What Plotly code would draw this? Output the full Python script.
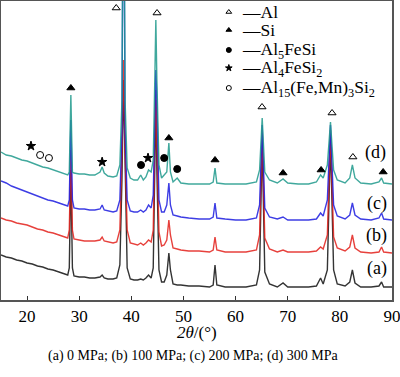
import plotly.graph_objects as go

# 2theta grid (degrees)
two_theta = [15, 16, 17, 18, 19, 20, 21, 22, 23, 24, 25, 26, 27, 27.8, 28.1, 28.4, 28.7, 29, 30, 31,
             32, 33, 34, 34.4, 34.8, 35.5, 36.5, 37.2, 37.8, 38.2, 38.5, 38.8, 39.2, 39.8, 40.5, 41.2,
             41.8, 42.3, 42.8, 43.3, 43.8, 44.2, 44.5, 44.7, 44.9, 45.3, 45.8, 46.3, 46.8, 47.2, 47.5,
             48.0, 48.8, 49.5, 51, 53, 55, 55.7, 56.05, 56.4, 58, 60, 62, 64, 64.6, 65.1, 65.6, 66.5,
             68, 69.1, 70, 72, 74, 75.5, 76.3, 76.8, 77.6, 78.2, 78.8, 79.5, 81, 81.9, 82.4, 82.9, 84,
             86, 87.5, 88.0, 88.4, 90]

# (d) 300 MPa
int_d = [148, 145, 144, 142, 140, 139, 137, 135, 133, 132, 130, 128, 126, 125, 128, 205, 128, 127, 126, 126,
         125, 125, 128, 133, 127, 124, 123, 124, 135, 200, 500, 200, 132, 122, 120, 120,
         125, 120, 123, 130, 128, 140, 220, 280, 220, 135, 122, 125, 128, 157, 128,
         118, 122, 117, 116, 116, 116, 118, 132, 117, 116, 116, 116, 118, 130, 182, 128, 120,
         117, 121, 117, 116, 116, 118, 125, 122, 135, 178, 130, 120, 117, 122, 135, 122, 117,
         116, 118, 122, 117, 116]
# (c) 200 MPa
int_c = [119, 117, 114, 112, 110, 108, 106, 104, 102, 100, 99, 97, 95, 94, 100, 180, 100, 92, 91, 91,
         90, 90, 91, 95, 90, 89, 88, 89, 100, 170, 500, 170, 100, 89, 88, 88,
         90, 88, 90, 95, 92, 105, 200, 230, 200, 100, 88, 88, 95, 117, 95,
         85, 84, 83, 82, 81, 81, 83, 97, 82, 81, 80, 80, 82, 95, 175, 92, 83,
         81, 83, 80, 80, 80, 81, 87, 84, 100, 175, 95, 84, 81, 85, 97, 85, 81,
         80, 82, 87, 81, 80]
# (b) 100 MPa
int_b = [82, 80, 79, 77, 76, 75, 73, 71, 70, 68, 67, 65, 63, 62, 70, 150, 70, 61, 60, 59,
         59, 59, 60, 63, 59, 58, 57, 58, 70, 150, 240, 150, 70, 57, 56, 55,
         57, 55, 57, 60, 58, 70, 160, 210, 160, 68, 54, 55, 60, 80, 65,
         52, 51, 50, 49, 49, 48, 50, 63, 50, 48, 48, 48, 50, 65, 170, 62, 51,
         48, 50, 48, 48, 48, 49, 53, 51, 65, 170, 63, 52, 49, 53, 65, 52, 48,
         47, 48, 53, 48, 47]
# (a) 0 MPa
int_a = [45, 43, 42, 40, 39, 37, 36, 34, 33, 31, 30, 28, 26, 25, 32, 130, 32, 24, 23, 23,
         22, 22, 23, 25, 22, 21, 21, 22, 35, 120, 220, 120, 32, 21, 20, 20,
         21, 20, 22, 25, 22, 32, 130, 200, 130, 30, 18, 18, 25, 47, 30,
         16, 15, 15, 14, 14, 13, 15, 35, 15, 13, 13, 13, 15, 30, 160, 28, 16,
         13, 17, 13, 13, 13, 14, 22, 16, 30, 160, 30, 16, 14, 18, 30, 17, 13,
         13, 14, 18, 13, 13]

series_names = ["(a)", "(b)", "(c)", "(d)"]
series_colors = ["#111111", "#e3201b", "#1c1ce0", "#1f9a8c"]
series_vals = [int_a, int_b, int_c, int_d]
label_x = [87.1, 87.1, 87.1, 86.75]
label_y = [32, 65, 97, 148]

# phase markers above peaks
mark_x = [20.75, 22.5, 24.2, 28.4, 34.4, 37.1, 44.93, 41.86, 43.2, 46.3, 47.2, 48.8,
          56.05, 65.07, 69.1, 76.4, 78.5, 82.5, 88.3]
mark_y = [154, 145, 142, 212, 138, 292, 287, 135, 142, 142, 162, 131,
          140, 193, 127, 130, 187, 143, 128]
mark_sym = ["star", "circle-open", "circle-open", "triangle-up", "star", "triangle-up-open",
            "triangle-up-open", "circle", "star", "circle", "triangle-up", "circle",
            "triangle-up", "triangle-up-open", "triangle-up", "triangle-up", "triangle-up-open",
            "triangle-up-open", "triangle-up"]

# legend
legend_sym = ["triangle-up-open", "triangle-up", "circle", "star", "circle-open"]
legend_text = ["Al", "Si", "Al<sub>5</sub>FeSi", "Al<sub>4</sub>FeSi<sub>2</sub>",
               "Al<sub>15</sub>(Fe,Mn)<sub>3</sub>Si<sub>2</sub>"]
legend_y = [288, 270, 250, 232, 212]
legend_sym_x = 58.7
legend_text_x = 60.8

x_ticks = [20, 30, 40, 50, 60, 70, 80, 90]
caption = "(a) 0 MPa; (b) 100 MPa; (c) 200 MPa; (d) 300 MPa"

serif = "Liberation Serif"

fig = go.Figure()
for name, col, vals in zip(series_names, series_colors, series_vals):
    fig.add_trace(go.Scatter(x=two_theta, y=vals, mode="lines", name=name,
                             line=dict(color=col, width=1.4), opacity=0.85,
                             showlegend=False, hoverinfo="skip"))

fig.add_trace(go.Scatter(x=mark_x, y=mark_y, mode="markers",
                         marker=dict(symbol=mark_sym, size=7, color="black",
                                     line=dict(color="black", width=1)),
                         showlegend=False, hoverinfo="skip"))
fig.add_trace(go.Scatter(x=[legend_sym_x] * len(legend_sym), y=legend_y, mode="markers",
                         marker=dict(symbol=legend_sym, size=5, color="black",
                                     line=dict(color="black", width=1)),
                         showlegend=False, hoverinfo="skip"))

annotations = []
for t, yy in zip(legend_text, legend_y):
    annotations.append(dict(x=legend_text_x, y=yy, xref="x", yref="y", text="—" + t,
                            showarrow=False, xanchor="left", yanchor="middle",
                            font=dict(family=serif, size=17.5, color="black")))
for t, xx, yy in zip(series_names, label_x, label_y):
    annotations.append(dict(x=xx, y=yy, xref="x", yref="y", text=t, showarrow=False,
                            xanchor="center", yanchor="middle",
                            font=dict(family=serif, size=18, color="black")))
annotations.append(dict(x=0.5, y=-0.11, xref="paper", yref="paper",
                        text="<i>2θ</i>/(°)", showarrow=False, xanchor="center",
                        yanchor="middle", font=dict(family=serif, size=17, color="black")))
annotations.append(dict(x=0.49, y=-0.186, xref="paper", yref="paper", text=caption,
                        showarrow=False, xanchor="center", yanchor="middle",
                        font=dict(family=serif, size=14, color="black")))

fig.update_layout(
    width=400, height=377,
    margin=dict(l=1, r=8, t=1, b=77, autoexpand=False),
    paper_bgcolor="white", plot_bgcolor="white",
    annotations=annotations,
    xaxis=dict(range=[15, 90], tickvals=x_ticks, ticks="inside", ticklen=4,
               tickcolor="#333", showgrid=False, zeroline=False, showline=True,
               linecolor="#555", linewidth=2, mirror=True, automargin=False,
               ticklabeloverflow="allow",
               tickfont=dict(family=serif, size=17, color="black")),
    yaxis=dict(range=[0, 299], showticklabels=False, ticks="", showgrid=False,
               zeroline=False, showline=True, linecolor="#555", linewidth=2, mirror=True,
               automargin=False),
)

fig.write_html("out.html", config={"displayModeBar": False},
               post_script="document.body.style.margin='0';document.body.style.padding='0';")
